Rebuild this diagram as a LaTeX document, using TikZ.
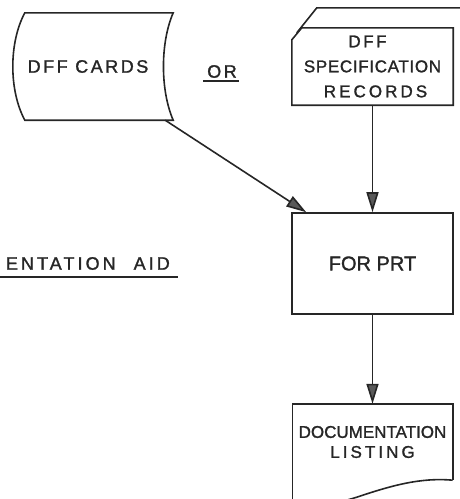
\documentclass[tikz,border=0pt]{standalone}
\usepackage{fontspec}
\setmainfont{Liberation Sans}[FakeBold=1.4]
\usetikzlibrary{positioning,arrows.meta}

\begin{document}
\begin{tikzpicture}[x=1pt,y=-1pt,
    every node/.style={inner sep=0pt,align=center,text=black!85},
    outline/.style={line width=1.6pt,draw=black!85},
    flow/.style={outline,-{Triangle[length=20pt,width=12pt,fill=black!65]}},
    wide/.style={font=\fontsize{18}{18}\selectfont\addfontfeature{LetterSpace=14}},
    slim/.style={font=\fontsize{17}{25}\selectfont}
    ]
    \useasboundingbox (0,0) rectangle (459,499);

    \node (cards) [minimum width=148pt,minimum height=107pt] at (99,66.5) {};
    \node (cardstxt) [wide] at (88,66.5) {DFF CARDS};
    \node (or) [wide] at (222,71.5) {OR};
    \node (aid) [wide,anchor=east] at (170,263.5) {\addfontfeature{LetterSpace=17}ENTATION\quad AID};
    \node (spec) [slim,minimum width=161pt,minimum height=77pt] at (372.5,66.5)
        {{\addfontfeature{LetterSpace=15}DFF}\hspace*{10pt}\\
         {\addfontfeature{LetterSpace=4}SPECIFICATION}\\
         \hspace*{6pt}{\addfontfeature{LetterSpace=18}RECORDS}};
    \node (forprt) [outline,minimum width=161pt,minimum height=101pt,below=107pt of spec,
        font=\fontsize{20}{20}\selectfont] {FOR PRT};
    \node (listing) [minimum width=160pt,minimum height=76pt,below=89pt of forprt,
        font=\fontsize{17}{20}\selectfont]
        {DOCUMENTATION\\ {\addfontfeature{LetterSpace=18}LISTING}};

    % the symbols
    \draw[outline] (cards.north west) -- (cards.north east)
        .. controls ([xshift=-13pt,yshift=-30pt]cards.north east) and ([xshift=-13pt,yshift=30pt]cards.south east) .. (cards.south east)
        -- (cards.south west)
        .. controls ([xshift=-16pt,yshift=30pt]cards.south west) and ([xshift=-16pt,yshift=-30pt]cards.north west) .. cycle;
    \draw[outline] ([yshift=-12pt]spec.north west) -- ([xshift=10pt]spec.north west) -- (spec.north east)
        -- (spec.south east) -- (spec.south west) -- cycle;
    \draw[outline] ([xshift=5pt,yshift=-5pt]spec.north west) -- ([xshift=25pt,yshift=20pt]spec.north west)
        -- ([xshift=30pt,yshift=20pt]spec.north east);
    \draw[outline] (listing.south east) -- (listing.north east) -- (listing.north west)
        -- ([yshift=-30pt]listing.south west);
    \draw[outline] (listing.south east)
        .. controls ([xshift=-33pt,yshift=3pt]listing.south east) and ([xshift=-63pt,yshift=-6pt]listing.south east) .. ([xshift=-96pt,yshift=-17pt]listing.south east)
        .. controls ([xshift=-118pt,yshift=-24pt]listing.south east) and ([xshift=-143pt,yshift=-28pt]listing.south east) .. ([yshift=-28pt]listing.south west);

    % underlines
    \draw[outline] ([xshift=-4pt,yshift=-3pt]or.south west) -- ([xshift=2pt,yshift=-3pt]or.south east);
    \draw[outline] ([xshift=-6pt,yshift=-7pt]aid.south west) -- ([xshift=8pt,yshift=-7pt]aid.south east);

    % the edges
    \draw[flow] ([xshift=-8pt]cards.south east) -- ([xshift=15pt]forprt.north west);
    \draw[flow] (spec) -- (forprt);
    \draw[flow] (forprt) -- (listing);
\end{tikzpicture}
\end{document}
